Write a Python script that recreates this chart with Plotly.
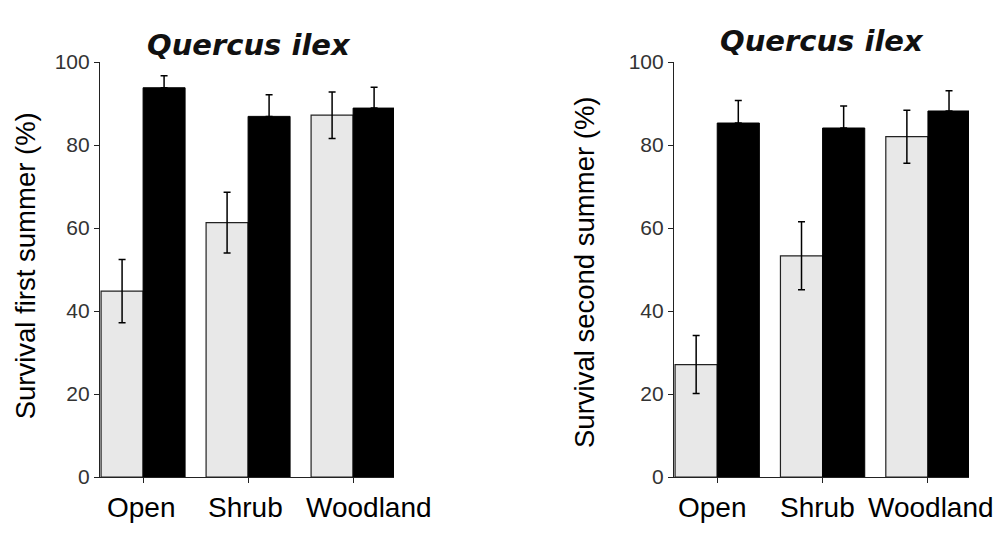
import plotly.graph_objects as go
from plotly.subplots import make_subplots

categories = ["Open", "Shrub", "Woodland"]

# first summer
first_light = [44.8, 61.3, 87.2]
first_light_err = [7.6, 7.3, 5.6]
first_dark = [93.8, 86.9, 88.9]
first_dark_err = [2.9, 5.2, 5.0]

# second summer
second_light = [27.1, 53.3, 82.0]
second_light_err = [7.0, 8.2, 6.4]
second_dark = [85.3, 84.1, 88.2]
second_dark_err = [5.4, 5.3, 4.9]

y_ticks = [0, 20, 40, 60, 80, 100]

FONT = "Liberation Sans, Arial, sans-serif"

fig = make_subplots(rows=1, cols=2)


def add_pair(col, light, light_err, dark, dark_err):
    fig.add_trace(go.Bar(
        x=categories, y=light,
        marker=dict(color="#e8e8e8", line=dict(color="#222222", width=1.2)),
        error_y=dict(type="data", array=light_err, color="black", thickness=1.5, width=3.5),
        showlegend=False
    ), row=1, col=col)
    fig.add_trace(go.Bar(
        x=categories, y=dark,
        marker=dict(color="black", line=dict(color="black", width=1)),
        error_y=dict(type="data", array=dark_err, symmetric=False, arrayminus=[0, 0, 0],
                     color="black", thickness=1.5, width=3.5),
        showlegend=False
    ), row=1, col=col)


add_pair(1, first_light, first_light_err, first_dark, first_dark_err)
add_pair(2, second_light, second_light_err, second_dark, second_dark_err)

# page body has an 8px margin, so the figure is a bit smaller than the window
fig.update_layout(
    width=996, height=537,
    margin=dict(l=0, r=0, t=0, b=0),
    plot_bgcolor="white",
    paper_bgcolor="white",
    barmode="group",
    bargap=0.2,
    bargroupgap=0,
    font=dict(family=FONT, color="black"),
)

xdomains = [[0.0924, 0.3876], [0.6687, 0.9649]]
for i, dom in enumerate(xdomains, start=1):
    fig.update_xaxes(
        domain=dom, range=[-0.41, 2.39], automargin=False,
        showticklabels=False,
        showline=True, linecolor="#222222", linewidth=1.2,
        ticks="outside", ticklen=5, tickcolor="#222222",
        showgrid=False, zeroline=False,
        row=1, col=i
    )
    fig.update_yaxes(
        domain=[0.1266, 0.8994], range=[0, 100], automargin=False,
        tickvals=y_ticks,
        showline=True, linecolor="#222222", linewidth=1.2,
        ticks="outside", ticklen=5, tickcolor="#222222",
        tickfont=dict(size=21, color="#333333", family=FONT),
        showgrid=False, zeroline=False,
        row=1, col=i
    )

# category labels drawn as annotations: in the original they are not
# exactly centred under the ticks ("Woodland" sits to the right)
label_shift = [[-2, -3, 16], [-5, -5, 3]]
for i, axis in enumerate(["x", "x2"]):
    yref = "y" if axis == "x" else "y2"
    for cat, dx in zip(categories, label_shift[i]):
        fig.add_annotation(x=cat, y=0, xref=axis, yref=yref, text=cat,
                           showarrow=False, xanchor="center", yanchor="middle",
                           xshift=dx, yshift=-30,
                           font=dict(size=28, color="black", family=FONT))

TITLE_FONT = dict(size=29, family="DejaVu Sans, sans-serif", color="#111111")
annotations = [
    dict(x=0.2420, y=0.931, text="<b><i>Quercus ilex</i></b>", font=TITLE_FONT),
    dict(x=0.8173, y=0.9385, text="<b><i>Quercus ilex</i></b>", font=TITLE_FONT),
    dict(x=0.0171, y=0.519, text="Survival first summer (%)", textangle=-90, font=dict(size=27.5)),
    dict(x=0.5793, y=0.5084, text="Survival second summer (%)", textangle=-90, font=dict(size=27.5)),
]
for a in annotations:
    fig.add_annotation(xref="paper", yref="paper", showarrow=False,
                       xanchor="center", yanchor="middle", **a)

fig.write_html("out.html")
